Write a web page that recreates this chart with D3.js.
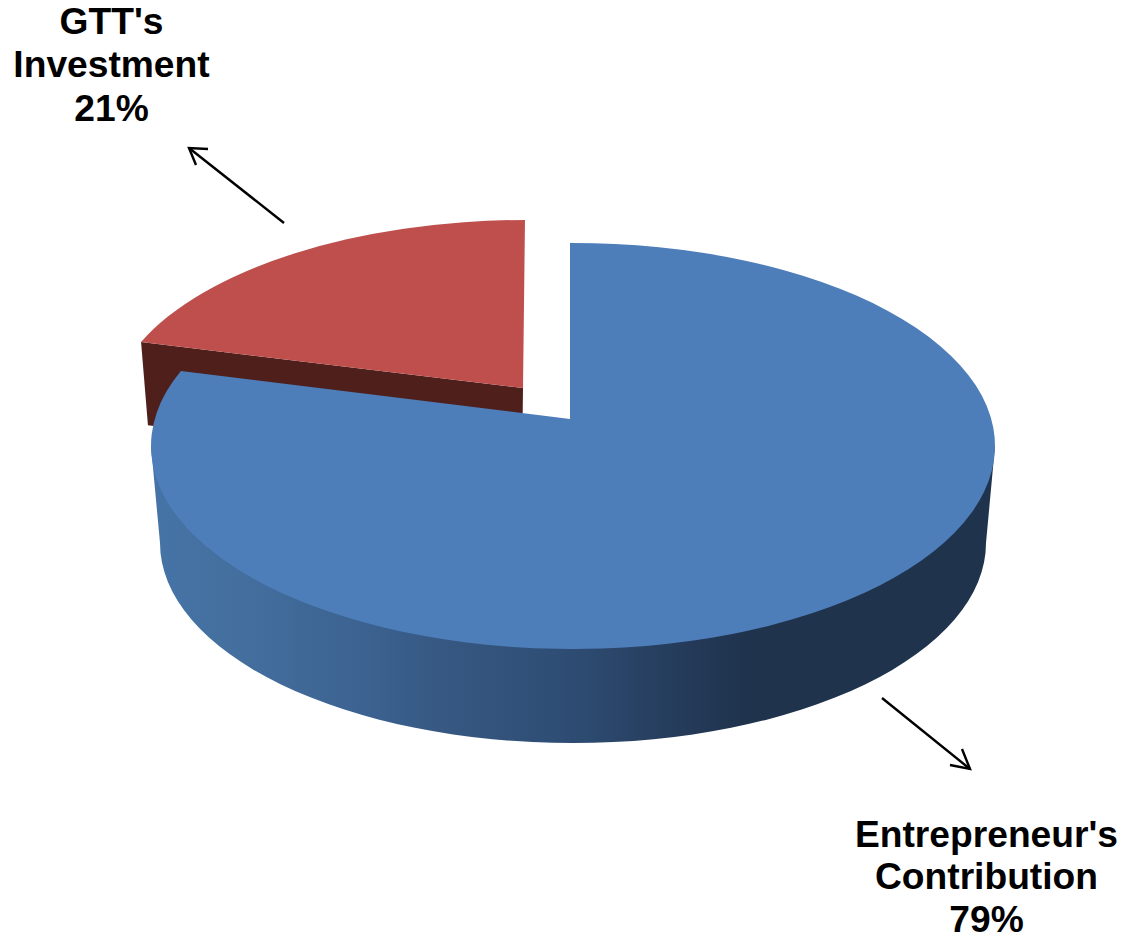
<!DOCTYPE html>
<html>
<head>
<meta charset="utf-8">
<script src="https://cdn.jsdelivr.net/npm/d3@7"></script>
<style>
    html, body { margin: 0; padding: 0; background: #fff; }
    svg { display: block; }
    text { font-family: "Liberation Sans", Arial, sans-serif; font-weight: bold; font-size: 37.2px; fill: #000; }
</style>
</head>
<body>
<svg id="chart" width="1124" height="937"></svg>
<script>
// values
var categories = ["Entrepreneur's Contribution", "GTT's Investment"];
var shares = [79, 21];
var labelLines = [["Entrepreneur's", "Contribution", "79%"], ["GTT's", "Investment", "21%"]];
var sideStops = [
    [0, "#4673a6"], [0.08, "#44709f"], [0.25, "#3c6291"], [0.34, "#365882"], [0.5, "#2e4c73"],
    [0.64, "#243a58"], [0.71, "#1f334d"], [1, "#1f334d"]
];

var svg = d3.select("#chart");

// the pie is tilted: top ellipse plus an apex which sits above the ellipse centre
var top3d = { cx: 573, cy: 446, rx: 422, ry: 203 };
var bottom3d = { cx: 573, cy: 543, rx: 413, ry: 200 };
var apex = [570, 419];

// where a ray from the apex hits the ellipse, for a pie angle
function rim(angle) {
    var dx = Math.sin(angle) * top3d.rx;
    var dy = -Math.cos(angle) * top3d.ry;
    var ox = (apex[0] - top3d.cx) / top3d.rx, oy = (apex[1] - top3d.cy) / top3d.ry;
    var ux = dx / top3d.rx, uy = dy / top3d.ry;
    var a = ux * ux + uy * uy;
    var b = 2 * (ox * ux + oy * uy);
    var c = ox * ox + oy * oy - 1;
    var t = (-b + Math.sqrt(b * b - 4 * a * c)) / (2 * a);
    return [apex[0] + dx * t, apex[1] + dy * t];
}

var pie = d3.pie().sort(null);
var slices = pie(shares);

// gradient of the blue wall
var defs = svg.append("defs");
var grad = defs.append("linearGradient")
    .attr("id", "wall")
    .attr("gradientUnits", "userSpaceOnUse")
    .attr("x1", bottom3d.cx - bottom3d.rx).attr("x2", bottom3d.cx + bottom3d.rx)
    .attr("y1", 0).attr("y2", 0);
sideStops.forEach(function (s) {
    grad.append("stop").attr("offset", s[0]).attr("stop-color", s[1]);
});

function slicePath(d) {
    var p0 = rim(d.startAngle), p1 = rim(d.endAngle);
    var large = d.endAngle - d.startAngle > Math.PI ? 1 : 0;
    return "M" + apex + "L" + p0 + "A" + top3d.rx + " " + top3d.ry + " 0 " + large + " 1 " + p1 + "Z";
}

// red slice: pulled out, slightly smaller because of the perspective
var redMove = { dx: -47, dy: -31, sx: 0.983, sy: 0.955, skew: -0.68 };
var red = svg.append("g")
    .attr("transform", "translate(" + (apex[0] + redMove.dx) + "," + (apex[1] + redMove.dy) + ") skewX(" + redMove.skew + ") scale(" + redMove.sx + "," + redMove.sy + ") translate(" + (-apex[0]) + "," + (-apex[1]) + ")");

var redTip = rim(slices[1].startAngle);
red.append("path")
    .attr("d", d3.line()([redTip, [redTip[0] + 8, redTip[1] + 87], [apex[0], apex[1] + 90], apex]) + "Z")
    .attr("fill", "#4f1f1c");
red.append("path")
    .attr("d", slicePath(slices[1]))
    .attr("fill", "#be4f4c");

// blue wall, then the blue top
var wallPath = "M" + (top3d.cx - top3d.rx) + "," + top3d.cy
    + "L" + (bottom3d.cx - bottom3d.rx) + "," + bottom3d.cy
    + "A" + bottom3d.rx + " " + bottom3d.ry + " 0 0 0 " + (bottom3d.cx + bottom3d.rx) + "," + bottom3d.cy
    + "L" + (top3d.cx + top3d.rx) + "," + top3d.cy + "Z";
svg.append("path").attr("d", wallPath).attr("fill", "url(#wall)");

svg.append("path")
    .attr("d", slicePath(slices[0]))
    .attr("fill", "#4e7eba");

// arrows
var arrows = [
    { line: [[284, 223], [189, 148]], head: [[208, 149], [189, 148], [196, 165]] },
    { line: [[882, 698], [970, 769]], head: [[950, 765], [970, 769], [962, 749]] }
];
var lineGen = d3.line();
arrows.forEach(function (a) {
    svg.append("path").attr("d", lineGen(a.line)).attr("fill", "none").attr("stroke", "#000").attr("stroke-width", 2.4);
    svg.append("path").attr("d", lineGen(a.head)).attr("fill", "none").attr("stroke", "#000").attr("stroke-width", 2.4);
});

// labels
var labelPos = [{ x: 986.5, y: [847, 889, 932] }, { x: 111.5, y: [34, 77, 121] }];
labelLines.forEach(function (lines, i) {
    svg.append("g").attr("class", "label").attr("aria-label", categories[i])
        .selectAll("text").data(lines).join("text")
        .attr("x", labelPos[i].x)
        .attr("y", function (d, j) { return labelPos[i].y[j]; })
        .attr("text-anchor", "middle")
        .text(function (d) { return d; });
});
</script>
</body>
</html>
